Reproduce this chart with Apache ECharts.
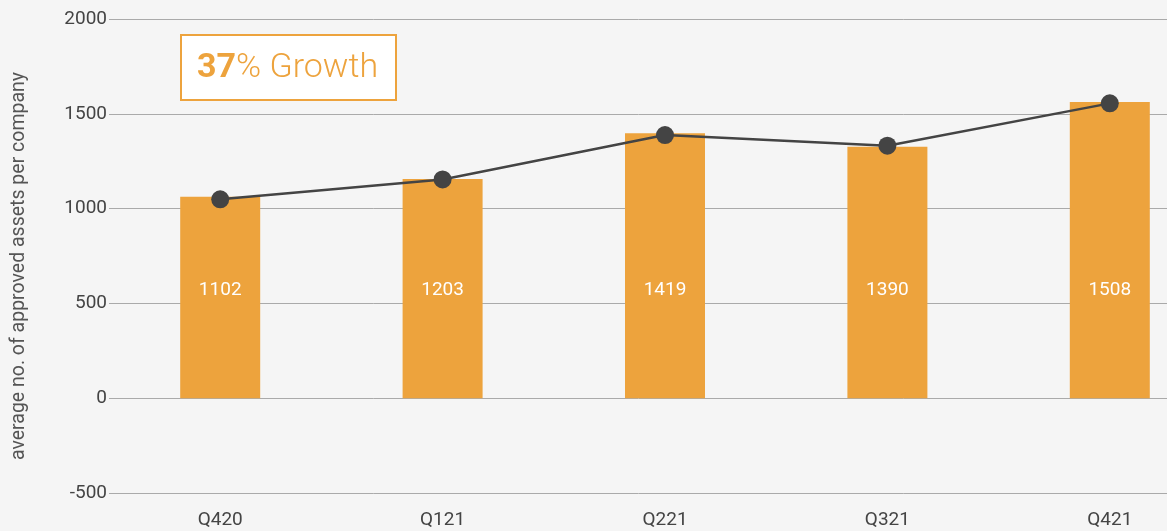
<!DOCTYPE html>
<html>
<head>
<meta charset="utf-8">
<script src="https://cdn.jsdelivr.net/npm/echarts@6/dist/echarts.min.js"></script>
<style>
  html, body { margin: 0; padding: 0; background: #f5f5f5; }
  #chart { width: 1167px; height: 531px; }
</style>
</head>
<body>
<div id="chart"></div>
<script>
// 数据
const quarters = ['Q420', 'Q121', 'Q221', 'Q321', 'Q421']
const barValues = [1062, 1156, 1398, 1326, 1562]
const lineValues = [1049, 1154, 1388, 1332, 1555]
const barLabels = ['1102', '1203', '1419', '1390', '1508']
const yTicks = [-500, 0, 500, 1000, 1500, 2000]

const orange = '#eda33d'
const dark = '#444444'

const chart = echarts.init(document.getElementById('chart'))

const option = {
  backgroundColor: '#f5f5f5',
  textStyle: { fontFamily: 'Roboto' },
  grid: {
    left: 109,
    top: 19,
    bottom: 38,
    width: 1112,
    outerBoundsMode: 'none'
  },
  xAxis: {
    type: 'category',
    data: quarters,
    axisLine: { show: false },
    axisTick: { show: false },
    axisLabel: {
      color: '#444',
      fontSize: 19,
      margin: 18
    }
  },
  yAxis: {
    type: 'value',
    min: yTicks[0],
    max: yTicks[yTicks.length - 1],
    interval: 500,
    name: 'average no. of approved assets per company',
    nameLocation: 'middle',
    nameGap: 80,
    nameTextStyle: { color: '#555', fontSize: 19.5, padding: [0, 20, 0, 0] },
    axisLine: { show: false },
    axisTick: { show: false },
    axisLabel: { color: '#444', fontSize: 19, margin: 2, formatter: v => String(v) },
    splitLine: { lineStyle: { color: '#aaaaaa', width: 1 } }
  },
  graphic: [
    {
      type: 'rect',
      left: 180,
      top: 34,
      shape: { width: 215, height: 65 },
      style: { fill: '#ffffff', stroke: orange, lineWidth: 2 }
    },
    {
      type: 'text',
      left: 197,
      top: 51,
      style: {
        text: '{b|37}{r|% Growth}',
        rich: {
          b: { fontSize: 34, fontWeight: 'bold', fill: orange, fontFamily: 'Roboto' },
          r: { fontSize: 34, fill: orange, fontFamily: 'Roboto', fontWeight: 300 }
        }
      }
    }
  ],
  series: [
    {
      type: 'bar',
      data: barValues,
      barWidth: 80,
      itemStyle: { color: orange },
      label: {
        show: true,
        position: 'insideBottom',
        distance: 98,
        color: '#ffffff',
        fontSize: 19,
        formatter: p => barLabels[p.dataIndex]
      },
      z: 2
    },
    {
      type: 'line',
      data: lineValues,
      symbol: 'circle',
      symbolSize: 18,
      itemStyle: { color: dark },
      lineStyle: { color: dark, width: 2.5 },
      z: 3
    }
  ]
}

chart.setOption(option)
</script>
</body>
</html>
